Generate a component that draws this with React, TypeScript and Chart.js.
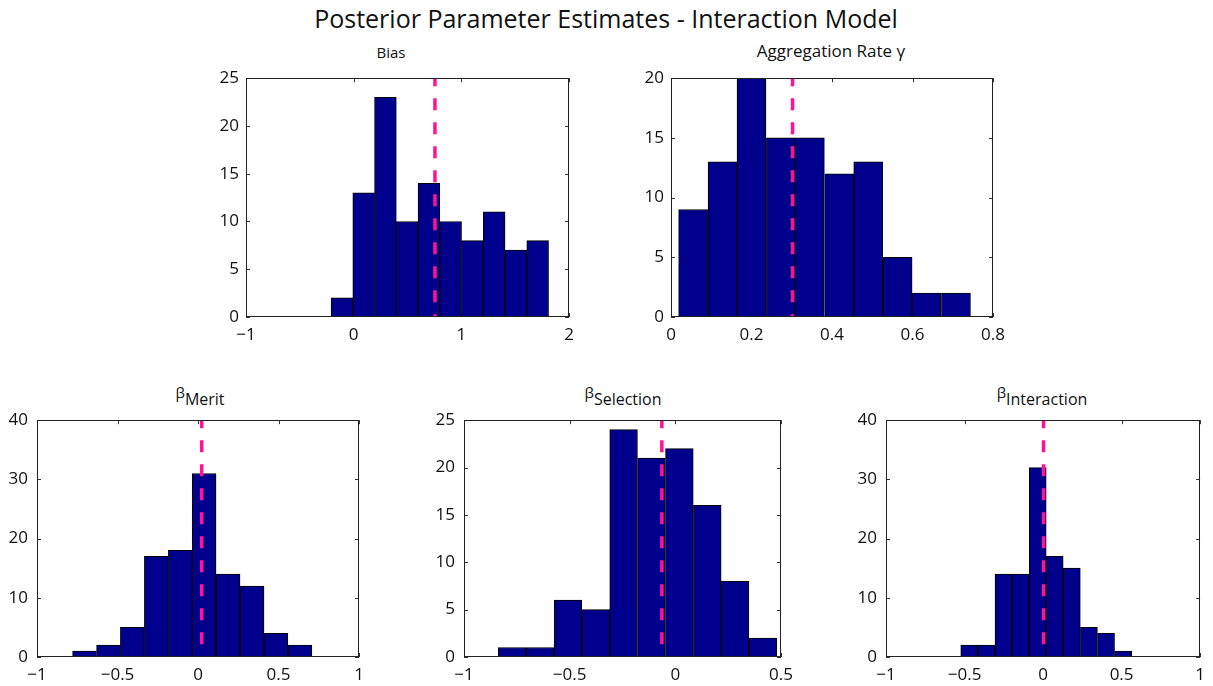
import React, { useEffect, useRef } from "react";
import { Chart, registerables } from "chart.js";

Chart.register(...registerables);

const FONT = "'Open Sans', 'DejaVu Sans', sans-serif";
const BAR_FILL = "#00008c";
const REF_COLOR = "#ff1296";

// ---- Bias ----
const biasCenters = [-0.109, 0.093, 0.295, 0.497, 0.699, 0.901, 1.103, 1.305, 1.507, 1.709];
const biasCounts = [2, 13, 23, 10, 14, 10, 8, 11, 7, 8];
const biasRef = 0.755;
const biasXTicks = [-1, 0, 1, 2];
const biasYTicks = [0, 5, 10, 15, 20, 25];

// ---- Aggregation Rate ----
const gammaCenters = [0.055, 0.128, 0.2, 0.273, 0.345, 0.418, 0.49, 0.563, 0.635, 0.708];
const gammaCounts = [9, 13, 20, 15, 15, 12, 13, 5, 2, 2];
const gammaRef = 0.302;
const gammaXTicks = [0, 0.2, 0.4, 0.6, 0.8];
const gammaYTicks = [0, 5, 10, 15, 20];

// ---- beta Merit ----
const meritCenters = [-0.705, -0.556, -0.408, -0.259, -0.11, 0.038, 0.187, 0.336, 0.484, 0.633];
const meritCounts = [1, 2, 5, 17, 18, 31, 14, 12, 4, 2];
const meritRef = 0.023;
const meritXTicks = [-1, -0.5, 0, 0.5, 1];
const meritYTicks = [0, 10, 20, 30, 40];

// ---- beta Selection ----
const selectionCenters = [-0.772, -0.64, -0.508, -0.376, -0.245, -0.113, 0.019, 0.151, 0.282, 0.414];
const selectionCounts = [1, 1, 6, 5, 24, 21, 22, 16, 8, 2];
const selectionRef = -0.064;
const selectionXTicks = [-1, -0.5, 0, 0.5];
const selectionYTicks = [0, 5, 10, 15, 20, 25];

// ---- beta Interaction ----
const interactionCenters = [-0.47, -0.361, -0.252, -0.143, -0.034, 0.074, 0.183, 0.292, 0.401, 0.51];
const interactionCounts = [2, 2, 14, 14, 32, 17, 15, 5, 4, 1];
const interactionRef = 0.003;
const interactionXTicks = [-1, -0.5, 0, 0.5, 1];
const interactionYTicks = [0, 10, 20, 30, 40];

const fmt = (v: number) => {
  const r = Math.round(v * 1000) / 1000;
  return String(r).replace("-", "\u2212");
};

const framePlugin = {
  id: "matlabFrame",
  beforeDatasetsDraw(chart: any) {
    const { ctx, chartArea: a, scales } = chart;
    const tl = 4;
    ctx.save();
    ctx.strokeStyle = "#333";
    ctx.lineWidth = 1;
    ctx.beginPath();
    scales.x.ticks.forEach((t: any) => {
      const px = Math.round(scales.x.getPixelForValue(t.value)) + 0.5;
      ctx.moveTo(px, a.bottom);
      ctx.lineTo(px, a.bottom - tl);
      ctx.moveTo(px, a.top);
      ctx.lineTo(px, a.top + tl);
    });
    scales.y.ticks.forEach((t: any) => {
      const py = Math.round(scales.y.getPixelForValue(t.value)) + 0.5;
      ctx.moveTo(a.left, py);
      ctx.lineTo(a.left + tl, py);
      ctx.moveTo(a.right, py);
      ctx.lineTo(a.right - tl, py);
    });
    ctx.stroke();
    ctx.restore();
  },
  afterDatasetsDraw(chart: any) {
    const { ctx, chartArea: a } = chart;
    ctx.save();
    ctx.strokeStyle = "#222";
    ctx.lineWidth = 1;
    ctx.strokeRect(
      Math.round(a.left) + 0.5,
      Math.round(a.top) + 0.5,
      Math.round(a.right - a.left) - 1,
      Math.round(a.bottom - a.top) - 1
    );
    ctx.restore();
  },
};

type Rect = { left: number; top: number; right: number; bottom: number };

type PanelProps = {
  plot: Rect;
  centers: number[];
  counts: number[];
  refValue: number;
  xTicks: number[];
  yTicks: number[];
  padL: number;
  padR: number;
  yPad: number;
};

const PAD_T = 12;
const PAD_B = 30;

function HistPanel(p: PanelProps) {
  const ref = useRef<HTMLCanvasElement | null>(null);
  const w = p.plot.right - p.plot.left + p.padL + p.padR;
  const h = p.plot.bottom - p.plot.top + PAD_T + PAD_B;
  const xMin = p.xTicks[0];
  const xMax = p.xTicks[p.xTicks.length - 1];
  const yMax = p.yTicks[p.yTicks.length - 1];

  useEffect(() => {
    if (!ref.current) return;
    const chart = new Chart(ref.current, {
      type: "bar",
      data: {
        datasets: [
          {
            type: "line",
            data: [
              { x: p.refValue, y: yMax },
              { x: p.refValue, y: 0 },
            ],
            borderColor: REF_COLOR,
            borderWidth: 3.5,
            borderDash: [12, 12],
            borderDashOffset: 4,
            borderCapStyle: "butt",
            pointRadius: 0,
            fill: false,
            order: 0,
          } as any,
          {
            type: "bar",
            data: p.centers.map((c, i) => ({ x: c, y: p.counts[i] })),
            backgroundColor: BAR_FILL,
            borderColor: "#000",
            borderWidth: 1,
            borderSkipped: false,
            barPercentage: 1,
            categoryPercentage: 1,
            grouped: false,
            order: 1,
          } as any,
        ],
      },
      options: {
        animation: false,
        responsive: false,
        maintainAspectRatio: false,
        devicePixelRatio: 1,
        events: [],
        layout: { padding: { left: 0, top: PAD_T, right: p.padR, bottom: 0 } },
        plugins: {
          legend: { display: false },
          tooltip: { enabled: false },
          title: { display: false },
        },
        scales: {
          x: {
            type: "linear",
            min: xMin,
            max: xMax,
            offset: false,
            grid: { display: false, drawTicks: false },
            border: { display: false },
            ticks: {
              font: { family: FONT, size: 17 },
              color: "#111",
              padding: 8,
              maxRotation: 0,
              autoSkip: false,
              callback: (v: any) => fmt(Number(v)),
            },
            afterBuildTicks: (s: any) => {
              s.ticks = p.xTicks.map((v) => ({ value: v }));
            },
            afterFit: (s: any) => {
              s.height = PAD_B;
            },
          },
          y: {
            type: "linear",
            min: 0,
            max: yMax,
            grid: { display: false, drawTicks: false },
            border: { display: false },
            ticks: {
              font: { family: FONT, size: 17 },
              color: "#111",
              padding: p.yPad,
              autoSkip: false,
              callback: (v: any) => fmt(Number(v)),
            },
            afterBuildTicks: (s: any) => {
              s.ticks = p.yTicks.map((v) => ({ value: v }));
            },
            afterFit: (s: any) => {
              s.width = p.padL;
            },
          },
        },
      } as any,
      plugins: [framePlugin],
    });
    return () => chart.destroy();
  }, []);

  return (
    <canvas
      ref={ref}
      width={w}
      height={h}
      style={{
        position: "absolute",
        left: p.plot.left - p.padL,
        top: p.plot.top - PAD_T,
        width: w,
        height: h,
      }}
    />
  );
}

function Label(props: { cx: number; baseline: number; size: number; children: React.ReactNode }) {
  return (
    <div
      style={{
        position: "absolute",
        left: props.cx,
        top: props.baseline - 0.388 * props.size,
        transform: "translateX(-50%)",
        lineHeight: 0,
        whiteSpace: "nowrap",
        fontFamily: FONT,
        fontSize: props.size,
        color: "#111",
      }}
    >
      {props.children}
    </div>
  );
}

function BetaLabel(props: { cx: number; sub: string }) {
  return (
    <Label cx={props.cx} baseline={398} size={15}>
      <span>β</span>
      <span style={{ fontSize: 16, position: "relative", top: 7 }}>{props.sub}</span>
    </Label>
  );
}

export default function App() {
  return (
    <div
      style={{
        position: "absolute",
        left: 0,
        top: 0,
        width: 1213,
        height: 686,
        background: "#fff",
        overflow: "hidden",
      }}
    >
      <Label cx={606} baseline={28} size={25}>
        Posterior Parameter Estimates - Interaction Model
      </Label>
      <Label cx={391} baseline={58} size={15}>
        Bias
      </Label>
      <Label cx={831} baseline={58} size={17}>
        Aggregation Rate γ
      </Label>
      <BetaLabel cx={200} sub="Merit" />
      <BetaLabel cx={623} sub="Selection" />
      <BetaLabel cx={1042} sub="Interaction" />

      <HistPanel
        plot={{ left: 246, top: 73, right: 569, bottom: 317 }}
        centers={biasCenters}
        counts={biasCounts}
        refValue={biasRef}
        xTicks={biasXTicks}
        yTicks={biasYTicks}
        padL={45}
        padR={14}
        yPad={7}
      />
      <HistPanel
        plot={{ left: 671, top: 73, right: 993, bottom: 317 }}
        centers={gammaCenters}
        counts={gammaCounts}
        refValue={gammaRef}
        xTicks={gammaXTicks}
        yTicks={gammaYTicks}
        padL={45}
        padR={20}
        yPad={7}
      />
      <HistPanel
        plot={{ left: 37, top: 413, right: 359, bottom: 657 }}
        centers={meritCenters}
        counts={meritCounts}
        refValue={meritRef}
        xTicks={meritXTicks}
        yTicks={meritYTicks}
        padL={36}
        padR={14}
        yPad={9}
      />
      <HistPanel
        plot={{ left: 464, top: 413, right: 783, bottom: 657 }}
        centers={selectionCenters}
        counts={selectionCounts}
        refValue={selectionRef}
        xTicks={selectionXTicks}
        yTicks={selectionYTicks}
        padL={45}
        padR={18}
        yPad={9}
      />
      <HistPanel
        plot={{ left: 886, top: 413, right: 1208, bottom: 657 }}
        centers={interactionCenters}
        counts={interactionCounts}
        refValue={interactionRef}
        xTicks={interactionXTicks}
        yTicks={interactionYTicks}
        padL={45}
        padR={5}
        yPad={9}
      />
    </div>
  );
}
